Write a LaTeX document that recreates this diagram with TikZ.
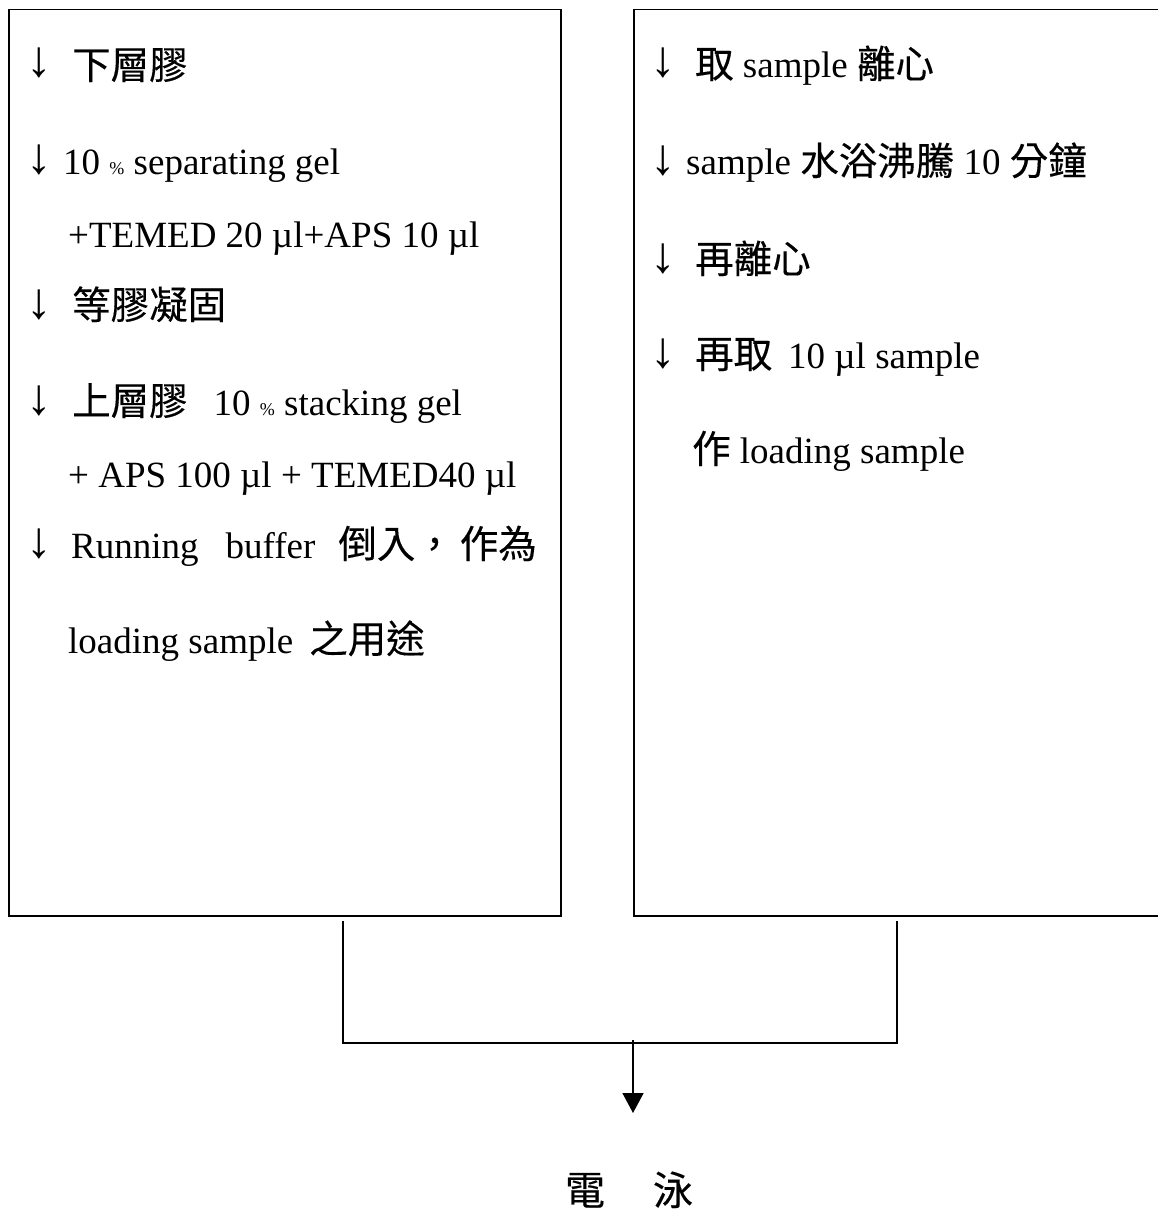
\documentclass[tikz,border=0pt]{standalone}
\usepackage{fontspec}
\setmainfont{Liberation Serif}
\newfontfamily\cjkfont[FakeBold=0.3]{Noto Sans CJK TC}
\newcommand{\ck}[1]{{\fontsize{38.5}{44}\selectfont\cjkfont #1}}
\usetikzlibrary{arrows.meta}
\newcommand{\pct}{{\fontsize{18}{18}\selectfont\%}}
\begin{document}
\begin{tikzpicture}[x=1pt,y=-1pt,
  box/.style={draw,line width=1.5pt,inner sep=0pt,anchor=north west},
  txt/.style={inner sep=0pt,anchor=base west,font=\fontsize{37}{44}\selectfont},
  arr/.style={inner sep=0pt,anchor=base,font=\fontsize{51}{56}\selectfont},
  link/.style={line width=1.5pt}]
\useasboundingbox (0,0) rectangle (1158,1209);
\begin{scope}
\clip (0,0) rectangle (1158,1209);
\node[box,minimum width=552pt,minimum height=906pt] (L) at (8,9) {};
\node[box,minimum width=580pt,minimum height=906pt] (R) at (633,9) {};
\end{scope}

% left box
\node[arr] (la1) at (39.5,77) {↓};
\node[txt] (lt1) at (72,79) {\ck{下層膠}};
\node[arr] (la2) at (39.5,174) {↓};
\node[txt] (lt2) at (63,175) {10 \pct{} separating gel};
\node[txt] (lt3) at (68,247) {+TEMED 20 µl+APS 10 µl};
\node[arr] (la4) at (39.5,318) {↓};
\node[txt] (lt4) at (72,319) {\ck{等膠凝固}};
\node[arr] (la5) at (39.5,414) {↓};
\node[txt] (lt5) at (72,415) {\ck{上層膠}\hspace{26pt}10 \pct{} stacking gel};
\node[txt] (lt6) at (68,487) {+ APS 100 µl + TEMED40 µl};
\node[arr] (la7) at (39.5,557) {↓};
\node[txt] (lt7) at (71,558) {Running\hspace{27pt}buffer\hspace{23pt}\ck{倒入，\hspace{6pt}作為}};
\node[txt] (lt8) at (68,653) {loading sample\hspace{16pt}\ck{之用途}};

% right box
\node[arr] (ra1) at (663.5,77) {↓};
\node[txt] (rt1) at (695,78) {\ck{取} sample \ck{離心}};
\node[arr] (ra2) at (663.5,175) {↓};
\node[txt] (rt2) at (686,175) {sample \ck{水浴沸騰} 10 \ck{分鐘}};
\node[arr] (ra3) at (663.5,272) {↓};
\node[txt] (rt3) at (695,273) {\ck{再離心}};
\node[arr] (ra4) at (663.5,367) {↓};
\node[txt] (rt4) at (695,368) {\ck{再取}\hspace{16pt}10 µl sample};
\node[txt] (rt5) at (692,463) {\ck{作} loading sample};

% connectors
\coordinate (ls) at (343,921);
\coordinate (lj) at (343,1043);
\coordinate (rs) at (897,921);
\coordinate (rj) at (897,1043);
\coordinate (mj) at (633,1040);
\coordinate (tip) at (633,1113);
\draw[link] (ls) -- (lj) -- (rj) -- (rs);
\draw[link,-{Triangle[length=20pt,width=21pt]}] (mj) -- (tip);

\node[inner sep=0pt,anchor=base,font=\fontsize{40}{48}\selectfont\cjkfont] (E) at (629,1205) {電\hspace{48pt}泳};
\end{tikzpicture}
\end{document}
